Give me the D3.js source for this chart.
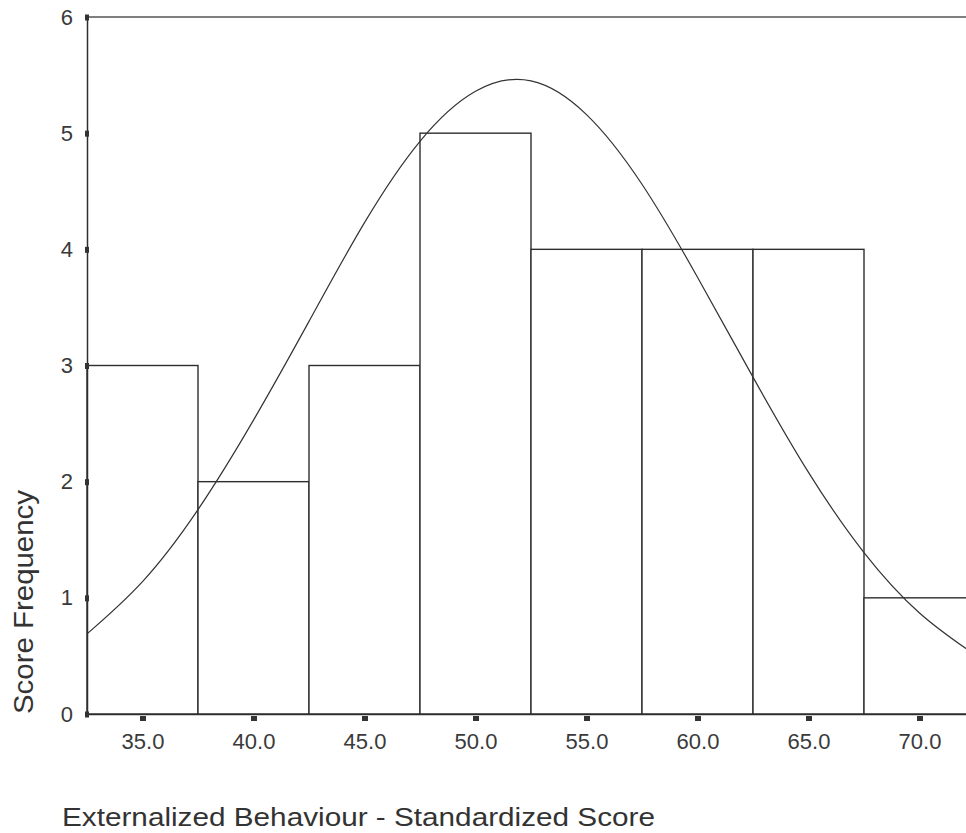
<!DOCTYPE html>
<html>
<head>
<meta charset="utf-8">
<script src="https://cdn.jsdelivr.net/npm/d3@7"></script>
<style>
  body { margin: 0; background: #fff; }
  svg { display: block; }
</style>
</head>
<body>
<div id="chart"></div>
<script>
// histogram bins (centres) and counts
const binCentres = [35, 40, 45, 50, 55, 60, 65, 70];
const binCounts = [3, 2, 3, 5, 4, 4, 4, 1];
const binWidth = 5;

// normal curve
const curveX = [32.5, 35, 37.5, 40, 42.5, 45, 47.5, 50, 52.5, 55, 57.5, 60, 62.5, 65, 67.5, 70, 72.5];
const curveY = [0.69, 1.14, 1.76, 2.53, 3.38, 4.23, 4.93, 5.36, 5.45, 5.16, 4.56, 3.76, 2.90, 2.08, 1.39, 0.87, 0.51];

const xTicks = [35, 40, 45, 50, 55, 60, 65, 70];
const yTicks = [0, 1, 2, 3, 4, 5, 6];

const width = 966, height = 833;
const m = {top: 17, left: 87, bottom: 714};
const font = "Liberation Sans, Arial, sans-serif";

const svg = d3.select("#chart").append("svg")
  .attr("width", width)
  .attr("height", height);

const x = d3.scaleLinear()
  .domain([32.5, 72.5])
  .range([m.left, m.left + 40 * 22.2]);

const y = d3.scaleLinear()
  .domain([0, 6])
  .range([m.bottom, m.top]);

const ink = "#2e2e2e";

// bars
svg.append("g")
  .selectAll("rect")
  .data(binCentres)
  .join("rect")
    .attr("x", (d) => x(d - binWidth / 2))
    .attr("y", (d, i) => y(binCounts[i]))
    .attr("width", (d) => x(d + binWidth / 2) - x(d - binWidth / 2))
    .attr("height", (d, i) => y(0) - y(binCounts[i]))
    .attr("fill", "#fff")
    .attr("stroke", ink)
    .attr("stroke-width", 1.4);

// normal curve
const line = d3.line()
  .x((d, i) => x(d))
  .y((d, i) => y(curveY[i]))
  .curve(d3.curveNatural);

svg.append("path")
  .datum(curveX)
  .attr("d", line)
  .attr("fill", "none")
  .attr("stroke", "#333")
  .attr("stroke-width", 1.2);

// frame: top border and axes
svg.append("line")
  .attr("x1", x(32.5)).attr("x2", width)
  .attr("y1", y(6)).attr("y2", y(6))
  .attr("stroke", "#555").attr("stroke-width", 1.5);

const xAxis = svg.append("g")
  .attr("transform", `translate(0,${y(0)})`)
  .call(d3.axisBottom(x).tickValues(xTicks).tickSize(0).tickPadding(19)
    .tickFormat(d3.format(".1f")));
xAxis.select(".domain").attr("stroke", ink).attr("stroke-width", 1.5);
xAxis.selectAll("text")
  .attr("font-family", font).attr("font-size", 22).attr("fill", "#3a3a3a");
xAxis.selectAll(".tick").append("rect")
  .attr("x", -3).attr("y", 2).attr("width", 6).attr("height", 5)
  .attr("fill", "#333");

const yAxis = svg.append("g")
  .attr("transform", `translate(${x(32.5)},0)`)
  .call(d3.axisLeft(y).tickValues(yTicks).tickSize(0).tickPadding(14)
    .tickFormat(d3.format("d")));
yAxis.select(".domain").attr("stroke", ink).attr("stroke-width", 1.5);
yAxis.selectAll("text")
  .attr("font-family", font).attr("font-size", 22).attr("fill", "#3a3a3a");
yAxis.selectAll(".tick").append("rect")
  .attr("x", -2).attr("y", -3).attr("width", 4).attr("height", 6)
  .attr("fill", "#333");

// axis titles
svg.append("text")
  .attr("transform", `translate(33,${y(0)}) rotate(-90)`)
  .attr("text-anchor", "start")
  .attr("font-family", font)
  .attr("font-size", 27)
  .attr("fill", "#333")
  .attr("textLength", 224)
  .attr("lengthAdjust", "spacingAndGlyphs")
  .text("Score Frequency");

svg.append("text")
  .attr("x", 62)
  .attr("y", 826)
  .attr("font-family", font)
  .attr("font-size", 26)
  .attr("fill", "#333")
  .attr("textLength", 593)
  .attr("lengthAdjust", "spacingAndGlyphs")
  .text("Externalized Behaviour - Standardized Score");
</script>
</body>
</html>
